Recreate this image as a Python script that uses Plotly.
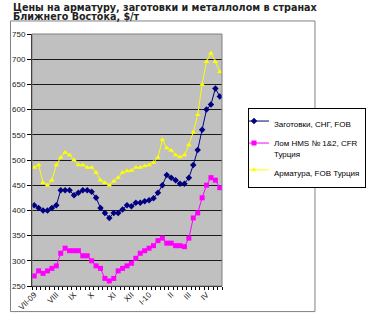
import plotly.graph_objects as go

# ---- data (weekly, Jul 2009 - Apr 2010) ----
tick_labels = ["VII-09", "VIII", "IX", "X", "XI", "XII", "I-10", "II", "III", "IV"]
tick_pos = [0, 5, 9, 13, 18, 22, 26, 31, 35, 39]

billets = [410, 405, 400, 400, 405, 410, 440, 440, 440, 430, 435, 440, 440, 437,
           425, 405, 395, 385, 395, 395, 402, 410, 408, 415, 415, 418, 420, 424,
           435, 450, 470, 465, 460, 453, 453, 465, 490, 520, 560, 600, 610, 642, 626]
scrap = [270, 280, 275, 280, 285, 290, 315, 325, 320, 320, 320, 310, 310, 300,
         290, 285, 265, 260, 265, 280, 285, 290, 295, 305, 315, 320, 325, 330,
         340, 345, 335, 335, 330, 330, 328, 345, 385, 395, 425, 450, 465, 460, 445]
rebar = [485, 490, 455, 450, 460, 490, 505, 515, 510, 500, 490, 490, 485, 485,
         475, 460, 455, 450, 458, 465, 475, 478, 479, 485, 485, 488, 490, 495,
         505, 540, 524, 519, 510, 506, 510, 530, 555, 590, 650, 695, 712, 695, 675]
weeks = list(range(len(billets)))

names = ["Заготовки, СНГ, FOB", "Лом HMS № 1&2, CFR<br>Турция", "Арматура, FOB Турция"]
colors = ["#000080", "#FF00FF", "#FFFF00"]
symbols = ["diamond", "square", "triangle-up"]
sizes = [5, 5, 5]

W, H = 378, 324
L, R, T, B = 28, 262, 34, 295


def px_x(p):
    return (p - L) / (R - L)


def px_y(p):
    return (B - p) / (B - T)


fig = go.Figure()
for i, (ys, nm, c, s, sz) in enumerate(zip([billets, scrap, rebar], names, colors, symbols, sizes)):
    fig.add_trace(go.Scatter(x=weeks, y=ys, name=nm, mode="lines+markers",
                             legendgroup=f"g{i}",
                             line=dict(color=c, width=1),
                             marker=dict(symbol=s, size=sz, color=c, line=dict(width=0))))

fig.update_layout(
    width=W, height=H,
    margin=dict(l=L, r=W - R, t=T, b=H - B, pad=0),
    paper_bgcolor="white", plot_bgcolor="#C0C0C0",
    font=dict(family="Liberation Sans, Arial, sans-serif", size=8, color="#222"),
    showlegend=True,
    legend=dict(x=px_x(294), y=px_y(111), xanchor="left", yanchor="top",
                bordercolor="black", borderwidth=1, bgcolor="white",
                font=dict(size=8, color="black"), valign="top",
                indentation=-15, itemwidth=30, tracegroupgap=3),
    xaxis=dict(range=[-0.5, len(weeks) - 0.5], tickmode="array", tickvals=tick_pos,
               ticktext=tick_labels, tickangle=-45, ticks="", showgrid=False,
               zeroline=False, showline=True, linecolor="black", linewidth=1,
               tickfont=dict(size=8, color="#222"),
               minor=dict(ticks="outside", tick0=-0.5, dtick=1, ticklen=3,
                          tickcolor="black", tickwidth=1, showgrid=False)),
    yaxis=dict(range=[250, 750], tickmode="linear", tick0=250, dtick=50,
               ticks="outside", ticklen=4, tickcolor="black", showgrid=True,
               gridcolor="#1a1a1a", gridwidth=1, zeroline=False, showline=True,
               linecolor="black", linewidth=1, tickfont=dict(size=8, color="#222")),
    shapes=[
        dict(type="rect", xref="paper", yref="paper", x0=0, x1=1, y0=0, y1=1,
             line=dict(color="#808080", width=1), layer="above"),
        dict(type="rect", xref="paper", yref="paper", x0=px_x(1.5), x1=px_x(376.5),
             y0=px_y(321.5), y1=px_y(20.5), line=dict(color="#808080", width=1)),
    ],
    annotations=[
        dict(text="<b>Цены на арматуру, заготовки и металлолом в странах</b>", xref="paper",
             yref="paper", x=px_x(2), y=px_y(-1.5), xanchor="left", yanchor="top",
             showarrow=False, font=dict(family="DejaVu Sans", size=9.6, color="#222")),
        dict(text="<b>Ближнего Востока, $/т</b>", xref="paper",
             yref="paper", x=px_x(2), y=px_y(8.5), xanchor="left", yanchor="top",
             showarrow=False, font=dict(family="DejaVu Sans", size=9.6, color="#222")),
    ],
)

fig.write_html("out.html")
